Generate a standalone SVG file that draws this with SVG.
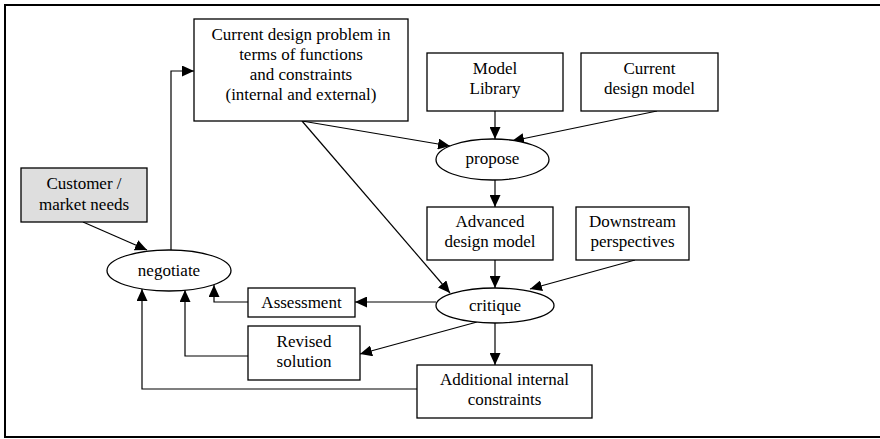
<svg xmlns="http://www.w3.org/2000/svg" width="880" height="439" viewBox="0 0 880 439">
  <style>
    .box { fill: #ffffff; stroke: #000000; stroke-width: 1.3; }
    .shaded { fill: #dedede; }
    .oval { fill: #ffffff; stroke: #000000; stroke-width: 1.3; }
    .lbl { font-family: "Liberation Serif", "Times New Roman", serif; font-size: 17px; fill: #000000; text-anchor: middle; }
    .edge { fill: none; stroke: #000000; stroke-width: 1.2; marker-end: url(#head); }
    .frame { fill: none; stroke: #000000; stroke-width: 2; }
  </style>
  <defs>
    <marker id="head" markerUnits="userSpaceOnUse" markerWidth="12" markerHeight="11" refX="12" refY="5.5" orient="auto">
      <path d="M0,0 L12,5.5 L0,11 z" fill="#000000"/>
    </marker>
  </defs>

  <rect x="0" y="0" width="880" height="439" fill="#ffffff"/>
  <path class="frame" d="M880,5 H5 V437 H880"/>

  <g id="connectors">
    <path class="edge" d="M83,222 L147,250"/>
    <path class="edge" d="M171,250 V71 H194"/>
    <path class="edge" d="M302,121 L450,146"/>
    <path class="edge" d="M495,111 V139"/>
    <path class="edge" d="M657,111 L512,141"/>
    <path class="edge" d="M495,180 V207"/>
    <path class="edge" d="M495,260 V288"/>
    <path class="edge" d="M635,260 L530,289"/>
    <path class="edge" d="M302,121 L450,293"/>
    <path class="edge" d="M436,302 H355"/>
    <path class="edge" d="M477,322 L360,354"/>
    <path class="edge" d="M495,323 V365"/>
    <path class="edge" d="M248,302 H214 V285"/>
    <path class="edge" d="M248,356 H185 V290"/>
    <path class="edge" d="M417,389 H142 V289"/>
  </g>

  <g id="design-problem">
    <rect class="box" x="194" y="19" width="214" height="102"/>
    <text class="lbl" x="301" y="40">Current design problem in</text>
    <text class="lbl" x="301" y="60">terms of functions</text>
    <text class="lbl" x="301" y="80">and constraints</text>
    <text class="lbl" x="301" y="100">(internal and external)</text>
  </g>

  <g id="customer-needs">
    <rect class="box shaded" x="21" y="168" width="126" height="54"/>
    <text class="lbl" x="84" y="189">Customer /</text>
    <text class="lbl" x="84" y="210">market needs</text>
  </g>

  <g id="model-library">
    <rect class="box" x="427" y="53" width="136" height="58"/>
    <text class="lbl" x="495" y="74">Model</text>
    <text class="lbl" x="495" y="94">Library</text>
  </g>

  <g id="current-model">
    <rect class="box" x="581" y="53" width="137" height="58"/>
    <text class="lbl" x="649.5" y="74">Current</text>
    <text class="lbl" x="649.5" y="94">design model</text>
  </g>

  <g id="propose">
    <ellipse class="oval" cx="492.5" cy="159.5" rx="56.5" ry="20.5"/>
    <text class="lbl" x="492.5" y="164">propose</text>
  </g>

  <g id="advanced-model">
    <rect class="box" x="427" y="207" width="126" height="53"/>
    <text class="lbl" x="490" y="227">Advanced</text>
    <text class="lbl" x="490" y="247">design model</text>
  </g>

  <g id="downstream">
    <rect class="box" x="576" y="207" width="113" height="53"/>
    <text class="lbl" x="632.5" y="227">Downstream</text>
    <text class="lbl" x="632.5" y="247">perspectives</text>
  </g>

  <g id="critique">
    <ellipse class="oval" cx="495" cy="305.5" rx="59" ry="17.5"/>
    <text class="lbl" x="495" y="311">critique</text>
  </g>

  <g id="negotiate">
    <ellipse class="oval" cx="169" cy="270.5" rx="62" ry="20.5"/>
    <text class="lbl" x="169" y="276">negotiate</text>
  </g>

  <g id="assessment">
    <rect class="box" x="248" y="288" width="107" height="29"/>
    <text class="lbl" x="301.5" y="308">Assessment</text>
  </g>

  <g id="revised-solution">
    <rect class="box" x="248" y="326" width="112" height="54"/>
    <text class="lbl" x="304" y="347">Revised</text>
    <text class="lbl" x="304" y="367">solution</text>
  </g>

  <g id="internal-constraints">
    <rect class="box" x="417" y="365" width="175" height="53"/>
    <text class="lbl" x="504.5" y="385">Additional internal</text>
    <text class="lbl" x="504.5" y="405">constraints</text>
  </g>
</svg>
